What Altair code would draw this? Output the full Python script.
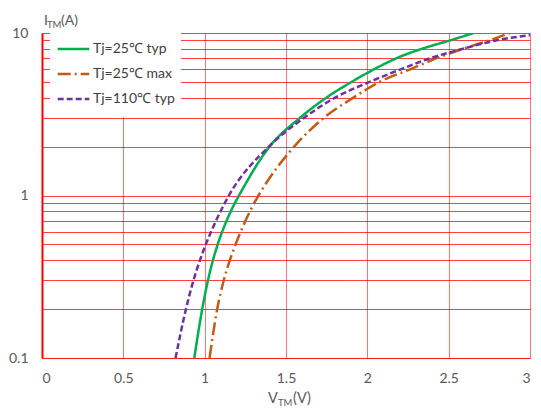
import altair as alt
import pandas as pd

currents = [0.1, 0.2, 0.3, 0.4, 0.5, 0.6, 0.7, 0.8, 0.9, 1, 2, 3, 4, 5, 6, 7, 8, 9, 10]
v_25_typ = [0.936, 0.985, 1.02, 1.051, 1.08, 1.108, 1.135, 1.161, 1.186, 1.211,
            1.399, 1.585, 1.748, 1.903, 2.044, 2.18, 2.337, 2.508, 2.655]
v_25_max = [1.03, 1.077, 1.117, 1.155, 1.19, 1.222, 1.251, 1.279, 1.305, 1.331,
            1.55, 1.732, 1.914, 2.075, 2.266, 2.427, 2.589, 2.75, 2.875]
currents_110 = [0.1, 0.2, 0.3, 0.4, 0.5, 0.6, 0.7, 0.8, 0.9, 1, 2, 3, 4, 5, 6, 7, 8, 9, 9.7]
v_110_typ = [0.821, 0.885, 0.931, 0.971, 1.007, 1.04, 1.07, 1.098, 1.124, 1.149,
             1.395, 1.61, 1.802, 2.014, 2.21, 2.387, 2.589, 2.79, 3.0]

series_names = ["Tj=25℃ typ", "Tj=25℃ max", "Tj=110℃ typ"]
series_colors = ["#00b050", "#c55a11", "#7030a0"]
series_dashes = [[1, 0], [13, 4, 2, 4], [6, 3]]

x_ticks = [0, 0.5, 1, 1.5, 2, 2.5, 3]
y_ticks = [0.1, 0.2, 0.3, 0.4, 0.5, 0.6, 0.7, 0.8, 0.9,
           1, 2, 3, 4, 5, 6, 7, 8, 9, 10]

rows = []
for name, vs, cs in zip(series_names, [v_25_typ, v_25_max, v_110_typ],
                        [currents, currents, currents_110]):
    for k, (v, c) in enumerate(zip(vs, cs)):
        rows.append({"series": name, "V": v, "I": c, "k": k})
df = pd.DataFrame(rows)

FONT = "Lato"
GRAY = "#595959"

legend_cfg = dict(
    orient="none", legendX=8, legendY=-2, title=None, fillColor="white",
    padding=6, symbolType="stroke", symbolSize=1000, symbolStrokeWidth=2.5,
    labelFontSize=14, labelFont=FONT, labelColor="#404040", rowPadding=1,
    clipHeight=24, labelOffset=2,
)

lines = alt.Chart(df).mark_line(strokeWidth=2.5, clip=True, interpolate="monotone").encode(
    x=alt.X("V:Q", scale=alt.Scale(domain=[0, 3], nice=False, zero=False),
            axis=alt.Axis(values=x_ticks, title=None, grid=True, gridColor="#ff0000",
                          gridOpacity=0.55, gridWidth=1, ticks=False,
                          domainColor="#ff0000", domainOpacity=0.55,
                          labelFont=FONT, labelFontSize=14, labelColor=GRAY,
                          labelPadding=13, format="~g")),
    y=alt.Y("I:Q", scale=alt.Scale(type="log", domain=[0.1, 10], nice=False),
            axis=alt.Axis(values=y_ticks, title=None, grid=True, gridColor="#ff0000",
                          gridOpacity=0.75, gridWidth=1, ticks=False,
                          domainColor="#ff0000", domainWidth=2,
                          labelFont=FONT, labelFontSize=14, labelColor=GRAY,
                          labelPadding=14,
                          labelExpr="datum.value == 0.1 ? '0.1' : datum.value == 1 ? '1' : datum.value == 10 ? '10' : ''")),
    color=alt.Color("series:N", scale=alt.Scale(domain=series_names, range=series_colors),
                    legend=alt.Legend(**legend_cfg)),
    strokeDash=alt.StrokeDash("series:N", scale=alt.Scale(domain=series_names, range=series_dashes),
                              legend=alt.Legend(**legend_cfg)),
    order="k:Q",
)

def label(txt, x, y, size):
    return alt.Chart(pd.DataFrame({"t": [txt]})).mark_text(
        align="left", baseline="alphabetic", font=FONT, fontSize=size, color=GRAY
    ).encode(x=alt.value(x), y=alt.value(y), text="t:N")

titles = [
    label("I", 2, -8, 14), label("TM", 5, -5, 9.5), label("(A)", 19, -8, 14),
    label("V", 226, 370, 14.5), label("TM", 236, 373, 9.5), label("(V)", 251, 370, 14.5),
]

chart = alt.layer(lines, *titles).properties(
    width=488, height=325,
    autosize=alt.AutoSizeParams(type="none"),
    padding={"left": 34, "top": 25, "right": 3, "bottom": 50},
).configure_view(strokeWidth=0)

chart.save("out.html", embed_options={"renderer": "svg", "actions": False})
